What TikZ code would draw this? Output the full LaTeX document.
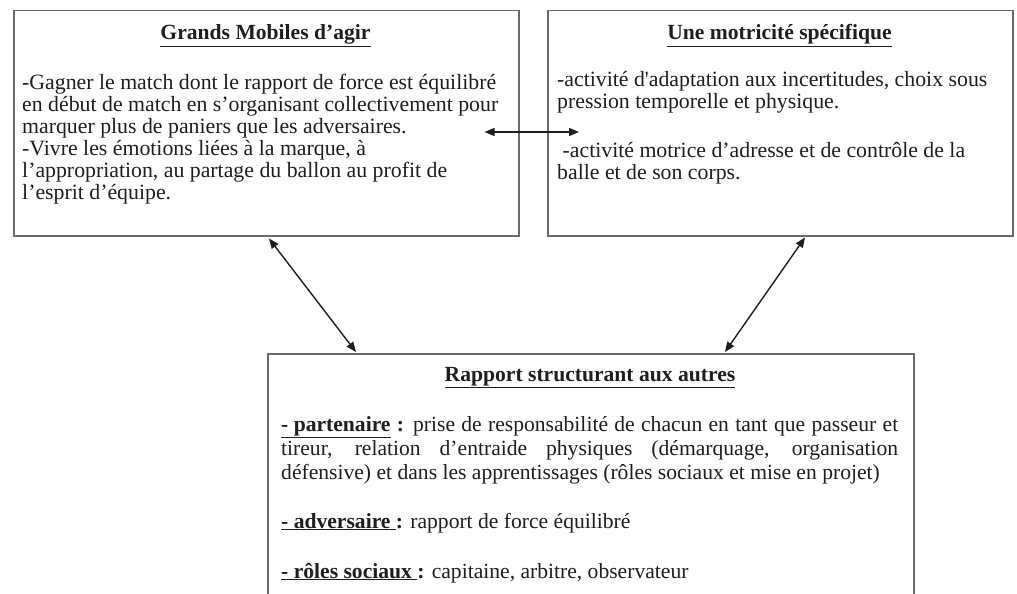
\documentclass[tikz,border=0pt]{standalone}
\usepackage{fontspec}
\setmainfont{Liberation Serif}
\usetikzlibrary{arrows.meta,calc}
\definecolor{boxgray}{HTML}{6A6A6A}
\definecolor{txt}{HTML}{1E1E1E}
\begin{document}
\begin{tikzpicture}[x=1pt,y=-1pt,
  box/.style={draw=boxgray, line width=1.5pt, inner sep=0pt, anchor=north west},
  body/.style={inner sep=0pt, anchor=base west, align=flush left, text=txt, font=\fontsize{21.8}{22}\selectfont,
    execute at begin node={\hyphenpenalty=10000\exhyphenpenalty=10000}},
  ttl/.style={inner sep=0pt, anchor=base, text=txt, font=\fontsize{21.6}{22}\selectfont\bfseries},
  link/.style={{Triangle[length=10pt,width=8pt]}-{Triangle[length=10pt,width=8pt]}, line width=1.4pt, draw=txt}]
\useasboundingbox (0,0) rectangle (1017,594);
\clip (0,0) rectangle (1017,594);
\fill[white] (0,0) rectangle (1017,594);
% boxes
\node[box, minimum width=505pt, minimum height=225pt] (b1) at (13,10) {};
\node[box, minimum width=465pt, minimum height=225pt] (b2) at (547,10) {};
\node[box, minimum width=646pt, minimum height=260pt] (b3) at (267,353) {};
% titles
\node[ttl] (t1) at (265.5,40) {\underline{Grands Mobiles d’agir}};
\node[ttl] (t2) at (779.5,40) {\underline{Une motricité spécifique}};
\node[ttl] (t3) at (590,381) {\underline{Rapport structurant aux autres}};
% box 1 text
\node[body, text width=495pt] (p1) at (22,89) {-Gagner le match dont le rapport de force est équilibré\\
en début de match en s’organisant collectivement pour\\
marquer plus de paniers que les adversaires.\\
-Vivre les émotions liées à la marque, à\\
l’appropriation, au partage du ballon au profit de\\
l’esprit d’équipe.};
% box 2 text
\node[body, text width=452pt] (p2a) at (557,86) {-activité d\textquotesingle adaptation aux incertitudes, choix sous\\
pression temporelle et physique.};
\node[body, text width=452pt] (p2b) at (557,157) {\ -activité motrice d’adresse et de contrôle de la\\
balle et de son corps.};
% box 3 text
\node[body, text width=617pt, align=justify, font=\fontsize{21.6}{24}\selectfont] (p3a) at (281,431)
 {\underline{\textbf{- partenaire}}\textbf{ :} prise de responsabilité de chacun en tant que passeur et\linebreak
 tireur, relation d’entraide physiques (démarquage, organisation\linebreak
 défensive) et dans les apprentissages (rôles sociaux et mise en projet)};
\node[body, font=\fontsize{21.6}{24}\selectfont] (p3b) at (281,528) {\underline{\textbf{- adversaire }}\textbf{:} rapport de force équilibré};
\node[body, font=\fontsize{21.6}{24}\selectfont] (p3c) at (281,578) {\underline{\textbf{- rôles sociaux }}\textbf{:} capitaine, arbitre, observateur};
% connectors
\draw[link] ($(b1.north east)+(-35,122)$) -- ($(b2.north west)+(32,122)$);
\draw[link] ($(b1.south west)+(256,2)$) -- ($(b3.north west)+(89,-1)$);
\draw[link] ($(b2.south west)+(258,1)$) -- ($(b3.north west)+(458,-1)$);
\end{tikzpicture}
\end{document}
